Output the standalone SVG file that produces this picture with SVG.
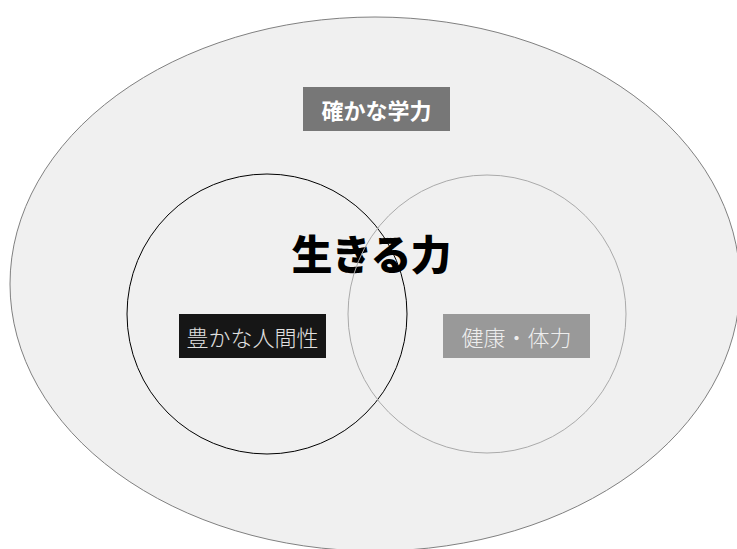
<svg xmlns="http://www.w3.org/2000/svg" width="737" height="549" viewBox="0 0 737 549">
<style>
.lbl{font-family:"Noto Sans CJK JP","Noto Sans CJK SC",sans-serif;font-size:22px;text-anchor:middle;dominant-baseline:central}
</style>
<rect width="737" height="549" fill="#ffffff"/>
<g id="outer">
<ellipse cx="375" cy="284" rx="365" ry="267" fill="#f0f0f0" stroke="#808080" stroke-width="1"/>
</g>
<g id="ikiru">
<text x="371" y="252" font-family="'Noto Sans CJK JP','Noto Sans CJK SC',sans-serif" font-size="41" font-weight="900" text-anchor="middle" dominant-baseline="central" fill="#000" letter-spacing="-1">生きる力</text>
</g>
<g id="connectors">
<circle cx="267" cy="314" r="140" fill="none" stroke="#000" stroke-width="1"/>
<circle cx="487" cy="314" r="139" fill="none" stroke="#aaaaaa" stroke-width="1"/>
</g>
<g id="gakuryoku">
<rect x="303" y="87" width="147" height="44" fill="#777777"/>
<text class="lbl" x="376.5" y="109" fill="#ffffff" font-weight="700">確かな学力</text>
</g>
<g id="ningensei">
<rect x="179" y="314" width="147" height="44" fill="#161616"/>
<text class="lbl" x="252.5" y="336" fill="#e0e0e0" font-weight="300">豊かな人間性</text>
</g>
<g id="kenko">
<rect x="443" y="314" width="147" height="44" fill="#999999"/>
<text class="lbl" x="516.5" y="336" fill="#eeeeee" font-weight="300">健康・体力</text>
</g>
</svg>
